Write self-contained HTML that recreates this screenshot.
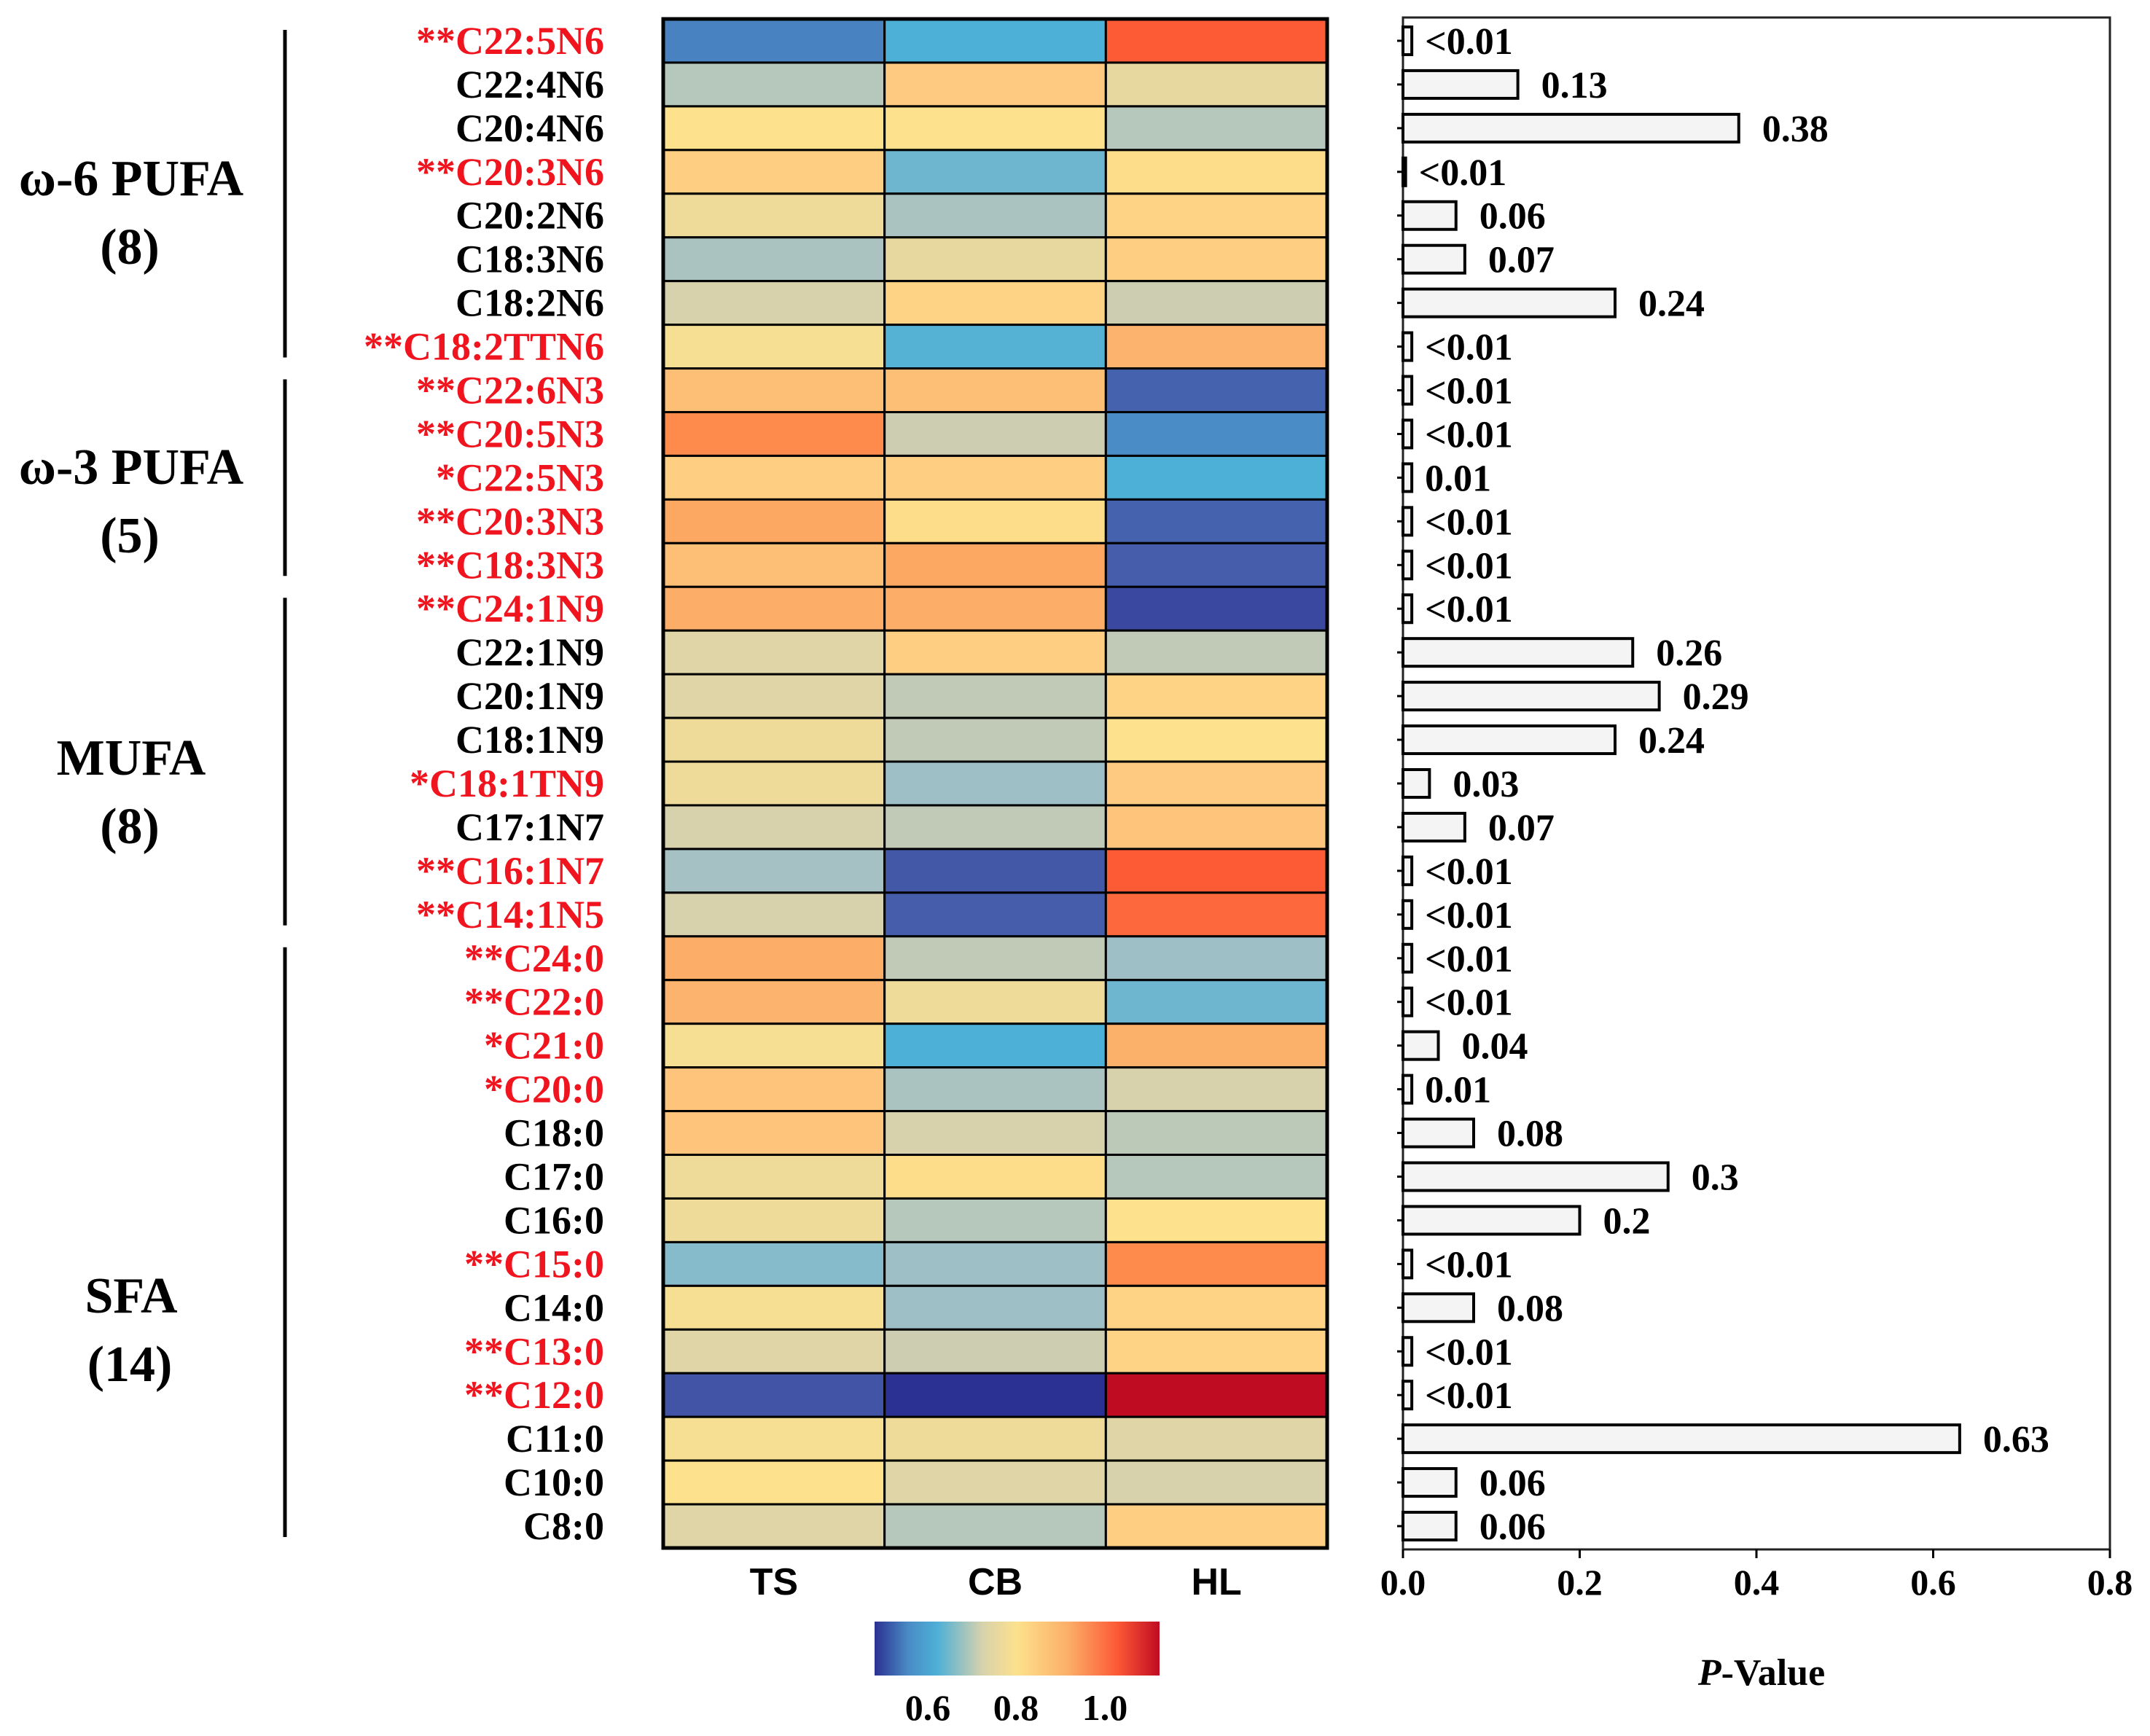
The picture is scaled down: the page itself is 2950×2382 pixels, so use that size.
<!DOCTYPE html>
<html><head><meta charset="utf-8">
<style>
html,body{margin:0;padding:0;background:#fff;}
svg{display:block;}
text{font-family:"Liberation Serif",serif;font-weight:bold;}
</style></head>
<body>
<svg id="chart" width="2950" height="2382" viewBox="0 0 2950 2382" xmlns="http://www.w3.org/2000/svg">
<defs>
<linearGradient id="cbar" x1="0" x2="1" y1="0" y2="0">
<stop offset="0" stop-color="#2b3192"/>
<stop offset="0.12" stop-color="#4a8cc6"/>
<stop offset="0.22" stop-color="#4db0d6"/>
<stop offset="0.38" stop-color="#d8d2ac"/>
<stop offset="0.5" stop-color="#fde18c"/>
<stop offset="0.68" stop-color="#fcae68"/>
<stop offset="0.85" stop-color="#fd5a36"/>
<stop offset="1" stop-color="#c00c22"/>
</linearGradient>
</defs>
<g id="heat"></g>
<g id="labels"></g>
<g id="groups"></g>
<g id="bars"></g>
<g>
<rect x="1200" y="2225" width="391" height="74" fill="url(#cbar)"/>
<text x="1273" y="2360" font-size="50" text-anchor="middle">0.6</text>
<text x="1394" y="2360" font-size="50" text-anchor="middle">0.8</text>
<text x="1516" y="2360" font-size="50" text-anchor="middle">1.0</text>
</g>
<text x="2417" y="2312" font-size="52" text-anchor="middle"><tspan font-style="italic">P</tspan>-Value</text>
</svg>
<script>
const rowNames = ["**C22:5N6","C22:4N6","C20:4N6","**C20:3N6","C20:2N6","C18:3N6","C18:2N6","**C18:2TTN6","**C22:6N3","**C20:5N3","*C22:5N3","**C20:3N3","**C18:3N3","**C24:1N9","C22:1N9","C20:1N9","C18:1N9","*C18:1TN9","C17:1N7","**C16:1N7","**C14:1N5","**C24:0","**C22:0","*C21:0","*C20:0","C18:0","C17:0","C16:0","**C15:0","C14:0","**C13:0","**C12:0","C11:0","C10:0","C8:0"];
const groupNames = ["TS","CB","HL"];
const tsValues = [0.59,0.72,0.80,0.84,0.78,0.71,0.75,0.79,0.87,0.95,0.84,0.91,0.87,0.90,0.76,0.76,0.78,0.78,0.75,0.705,0.75,0.90,0.89,0.79,0.86,0.86,0.78,0.78,0.685,0.79,0.76,0.545,0.79,0.80,0.76];
const cbValues = [0.65,0.85,0.80,0.67,0.71,0.77,0.83,0.655,0.87,0.74,0.84,0.81,0.91,0.90,0.84,0.73,0.73,0.70,0.73,0.55,0.555,0.73,0.78,0.65,0.71,0.75,0.81,0.72,0.70,0.70,0.74,0.50,0.78,0.76,0.72];
const hlValues = [1.0,0.77,0.72,0.81,0.83,0.84,0.74,0.89,0.56,0.60,0.65,0.56,0.555,0.53,0.73,0.83,0.80,0.85,0.86,1.0,0.985,0.70,0.67,0.895,0.75,0.725,0.72,0.80,0.95,0.83,0.83,1.10,0.76,0.75,0.84];
const pValues = [0.01,0.13,0.38,0.003,0.06,0.07,0.24,0.01,0.01,0.01,0.01,0.01,0.01,0.01,0.26,0.29,0.24,0.03,0.07,0.01,0.01,0.01,0.01,0.04,0.01,0.08,0.3,0.2,0.01,0.08,0.01,0.01,0.63,0.06,0.06];
const pLabels = ["<0.01","0.13","0.38","<0.01","0.06","0.07","0.24","<0.01","<0.01","<0.01","0.01","<0.01","<0.01","<0.01","0.26","0.29","0.24","0.03","0.07","<0.01","<0.01","<0.01","<0.01","0.04","0.01","0.08","0.3","0.2","<0.01","0.08","<0.01","<0.01","0.63","0.06","0.06"];
const xTicks = [0.0,0.2,0.4,0.6,0.8];
const xTickLabels = ["0.0","0.2","0.4","0.6","0.8"];
const groupLabels = ["ω-6 PUFA","ω-3 PUFA","MUFA","SFA"];
const groupCounts = ["(8)","(5)","(8)","(14)"];
const groupStart = [0,8,13,21];
const groupEnd = [7,12,20,34];
const groupLabelY = [268,664,1063,1801];

const NS="http://www.w3.org/2000/svg";
function mk(tag,attrs,parent,txt){const e=document.createElementNS(NS,tag);for(const k in attrs)e.setAttribute(k,attrs[k]);if(txt!==undefined)e.textContent=txt;parent.appendChild(e);return e;}
const stops=[[0.50,[43,49,146]],[0.55,[68,88,168]],[0.60,[74,140,198]],[0.65,[77,176,214]],[0.70,[159,191,198]],[0.75,[216,210,172]],[0.80,[253,225,140]],[0.85,[254,201,128]],[0.90,[252,174,104]],[0.95,[254,138,76]],[1.00,[253,90,54]],[1.10,[192,12,34]]];
function color(v){if(v<=stops[0][0])return 'rgb('+stops[0][1]+')';for(let i=1;i<stops.length;i++){if(v<=stops[i][0]){const a=stops[i-1],b=stops[i];const t=(v-a[0])/(b[0]-a[0]);return 'rgb('+a[1].map((c,j)=>Math.round(c+(b[1][j]-c)*t)).join(',')+')';}}return 'rgb('+stops[stops.length-1][1]+')';}
const hx0=910, hx1=1821, hy0=26, hy1=2124;
const rowH=(hy1-hy0)/rowNames.length, colW=(hx1-hx0)/groupNames.length;
function yRow(i){return hy0+i*rowH;}
function xCol(j){return hx0+j*colW;}
const heat=document.getElementById('heat');
const series=[tsValues,cbValues,hlValues];
for(let j=0;j<3;j++){for(let i=0;i<rowNames.length;i++){
 const r=mk('rect',{x:xCol(j),y:yRow(i),width:colW,height:rowH,fill:color(series[j][i]),stroke:'#000','stroke-width':3},heat);
 
 
}}
mk('rect',{x:hx0,y:hy0,width:hx1-hx0,height:hy1-hy0,fill:'none',stroke:'#000','stroke-width':5},heat);
for(let j=0;j<3;j++){
 const t=mk('text',{x:xCol(j)+colW/2,y:2188,'font-size':52,'text-anchor':'middle','style':'font-family:"Liberation Sans",sans-serif;font-weight:bold'},heat,groupNames[j]);
 
 
}
const labels=document.getElementById('labels');
rowNames.forEach((n,i)=>{
 const t=mk('text',{x:829,y:yRow(i)+rowH/2+18,'font-size':54,'text-anchor':'end',fill:n.startsWith('*')?'#f0141e':'#000'},labels,n);
 
 
});
const groups=document.getElementById('groups');
groupLabels.forEach((g,k)=>{
 const ya=yRow(groupStart[k])+15, yb=yRow(groupEnd[k]+1)-15;
 const l=mk('line',{x1:391,x2:391,y1:ya,y2:yb,stroke:'#000','stroke-width':5},groups);
 
 
 const t=mk('text',{x:180,y:groupLabelY[k],'font-size':70,'text-anchor':'middle'},groups,g);
 
 
 const c=mk('text',{x:178,y:groupLabelY[k]+94,'font-size':70,'text-anchor':'middle'},groups,groupCounts[k]);
 
 
});
const bx0=1925, bx1=2895, by0=24, by1=2126;
function xP(v){return bx0+(v/0.8)*(bx1-bx0);}
const bars=document.getElementById('bars');
const frame=mk('rect',{x:bx0,y:by0,width:bx1-bx0,height:by1-by0,fill:'none',stroke:'#222','stroke-width':3},bars);


pValues.forEach((v,i)=>{
 const cy=yRow(i)+rowH/2;
 mk('line',{x1:bx0-8,x2:bx0,y1:cy,y2:cy,stroke:'#000','stroke-width':3},bars);
 const b=mk('rect',{x:bx0,y:cy-19,width:Math.max(xP(v)-bx0,2),height:38,fill:'#f4f4f4',stroke:'#000','stroke-width':4},bars);
 
 
 const off=v<0.02?18:32;
 const t=mk('text',{x:xP(v)+off,y:cy+18,'font-size':52},bars,pLabels[i]);
 
 
});
xTicks.forEach((v,k)=>{
 mk('line',{x1:xP(v),x2:xP(v),y1:by1,y2:by1+12,stroke:'#000','stroke-width':3},bars);
 const t=mk('text',{x:xP(v),y:2188,'font-size':50,'text-anchor':'middle'},bars,xTickLabels[k]);
 
 
});
</script>
</body></html>
